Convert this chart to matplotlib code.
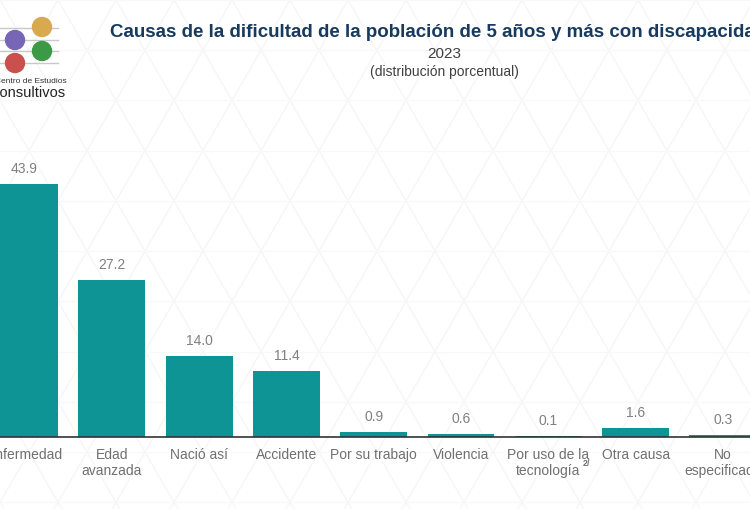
import numpy as np
import matplotlib
matplotlib.use("Agg")
import matplotlib.pyplot as plt
from matplotlib.patches import Circle
from matplotlib.lines import Line2D

plt.rcParams['font.family'] = ['Liberation Sans', 'DejaVu Sans']

# datos
causas = ['Enfermedad', 'Edad\navanzada', 'Nació así', 'Accidente', 'Por su trabajo',
          'Violencia', 'Por uso de la\ntecnología', 'Otra causa', 'No\nespecificado']
porcentajes = [43.9, 27.2, 14.0, 11.4, 0.9, 0.6, 0.1, 1.6, 0.3]

W, H = 750, 509
fig = plt.figure(figsize=(W / 100, H / 100), dpi=100)
fig.patch.set_facecolor('white')

# fondo con patron de triangulos tenue
bg = fig.add_axes([0, 0, 1, 1], zorder=-5)
bg.set_xlim(0, W)
bg.set_ylim(H, 0)
bg.axis('off')
step = 58
h = step * np.sqrt(3) / 2
for k in range(-20, 30):
    x0 = k * step
    bg.plot([x0, x0 + H / np.sqrt(3)], [0, H], color='#f6f6f6', lw=1.0)
    bg.plot([x0, x0 - H / np.sqrt(3)], [0, H], color='#f6f6f6', lw=1.0)
for r in np.arange(0, H, h):
    bg.plot([0, W], [r, r], color='#f8f8f8', lw=0.8)

# logo
logo = fig.add_axes([0, 0, 1, 1], zorder=1)
logo.set_xlim(0, W)
logo.set_ylim(H, 0)
logo.axis('off')
for yy in [28, 40, 51, 63]:
    logo.add_line(Line2D([0, 58], [yy, yy], color='#c8c8c8', lw=1))
for (cx, cy, col) in [(15, 40, '#7766b5'), (42, 27, '#d8a94f'), (42, 51, '#3c9a47'), (15, 63, '#c9504c')]:
    logo.add_patch(Circle((cx, cy), 9.5, color=col, zorder=3))
logo.text(-5, 81, 'Centro de Estudios', fontsize=6.0, color='#333333', va='center', ha='left')
logo.text(-11, 93, 'Consultivos', fontsize=10.5, color='#222222', va='center', ha='left')

# titulos
logo.text(110, 32, 'Causas de la dificultad de la población de 5 años y más con discapacidad',
          fontsize=13.5, fontweight='bold', color='#173a5e', va='center', ha='left')
logo.text(444, 54, '2023', fontsize=11, color='#404040', va='center', ha='center')
logo.text(444, 72, '(distribución porcentual)', fontsize=10, color='#404040', va='center', ha='center')

# grafica de barras
spacing = 87.3
c0 = 24.5
base_y = 437
px_per_unit = 5.765
ymax = 50
top_px = base_y - ymax * px_per_unit
ax = fig.add_axes([0, (H - base_y) / H, 1, (base_y - top_px) / H], zorder=2)
ax.patch.set_alpha(0)
x = np.arange(len(causas))
ax.bar(x, porcentajes, width=0.767, color='#0f9495')
ax.set_xlim(-c0 / spacing, (W - c0) / spacing)
ax.set_ylim(0, ymax)
for xi, v in zip(x, porcentajes):
    ax.text(xi, v + 15 / px_per_unit, f'{v:.1f}', ha='center', va='center', fontsize=10, color='#808080')
for s in ['top', 'right', 'left']:
    ax.spines[s].set_visible(False)
ax.spines['bottom'].set_color('#333333')
ax.spines['bottom'].set_linewidth(1.2)
ax.set_yticks([])
ax.set_xticks(x)
ax.set_xticklabels(causas, fontsize=10, color='#707070', linespacing=1.2)
ax.tick_params(axis='x', length=0, pad=8)

# nota 2/ en superindice
ax.annotate('2/', xy=(6, 0), xycoords=ax.get_xaxis_transform(), xytext=(34, -27),
            textcoords='offset pixels', fontsize=6.5, fontweight='bold', color='#707070',
            ha='left', va='center')

fig.savefig('out.png', dpi=100)
